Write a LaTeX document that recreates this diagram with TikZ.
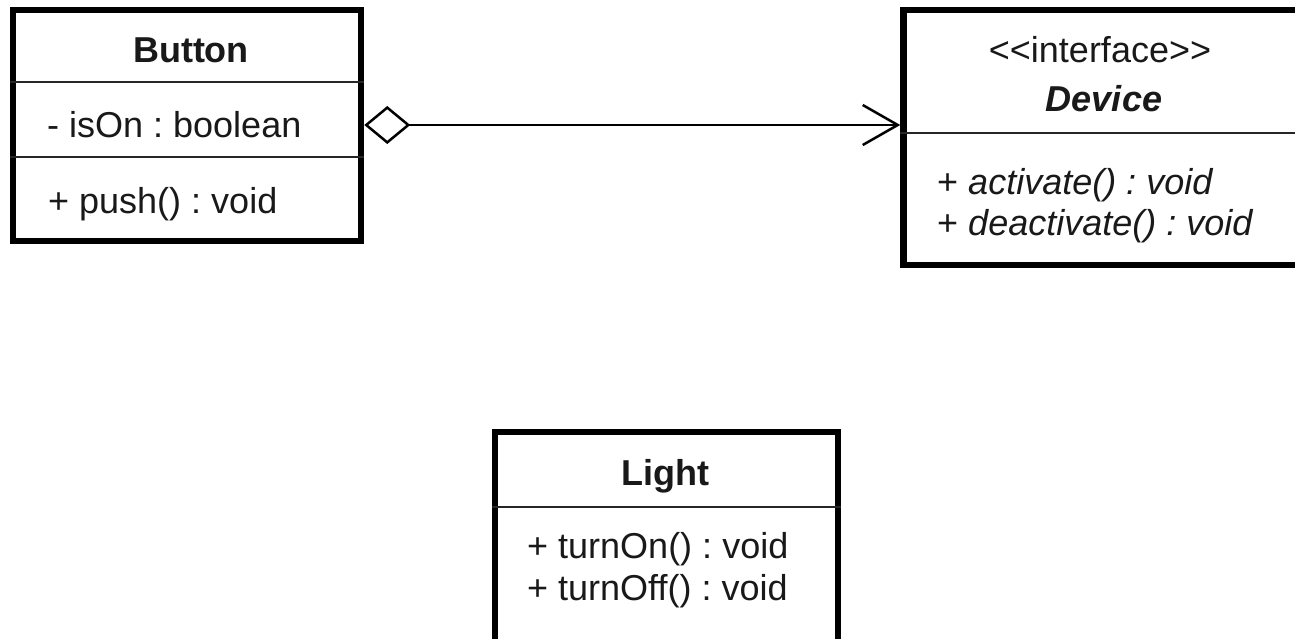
\documentclass[tikz,border=0pt]{standalone}
\usepackage{fontspec}
\setmainfont{Liberation Sans}[Ligatures=TeXOff]
\frenchspacing
\usetikzlibrary{arrows.meta}
\begin{document}
\begin{tikzpicture}[x=1pt,y=-1pt,
  classbox/.style={draw=black, line width=6.5pt, inner sep=0pt, fill=white},
  divider/.style={draw=black!85, line width=2pt},
  txt/.style={font=\fontsize{36}{43}\selectfont, inner sep=0pt, text=black!90},
  member/.style={txt, anchor=base west},
  title/.style={txt, anchor=base, font=\fontsize{36}{43}\selectfont\bfseries},
  assoc/.style={line width=2.5pt, {Diamond[open,length=46pt,width=38pt,line width=2.5pt]}-{Straight Barb[length=35pt,width=40pt,line width=2.5pt]}}]
\useasboundingbox (0,0) rectangle (1295,639);
\clip (0,0) rectangle (1295,639);
\fill[white] (0,0) rectangle (1295,639);

% Button
\node[classbox, minimum width=348pt, minimum height=231pt] (button) at (187,125.5) {};
\draw[divider] (button.west |- 0,82) -- (button.east |- 0,82);
\draw[divider] (button.west |- 0,157) -- (button.east |- 0,157);
\node[title] (buttonname) at (191,63) {Button};
\node[member] (isOn) at (47,138) {- isOn : boolean};
\node[member] (push) at (48,213) {+ push() : void};

% Device
\node[classbox, minimum width=406.5pt, minimum height=255pt] (device) at (1106.75,137.5) {};
\draw[divider] (device.west |- 0,133) -- (device.east |- 0,133);
\node[txt, anchor=base] (stereo) at (1100,63) {<<interface>>};
\node[title, font=\fontsize{36}{43}\selectfont\bfseries\itshape] (devicename) at (1104,112) {Device};
\node[member] (activate) at (937,195) {+ \textit{activate() : void}};
\node[member] (deactivate) at (937,235) {+ \textit{deactivate() : void}};

% Light
\node[classbox, minimum width=343pt, minimum height=228pt] (light) at (666.5,546) {};
\draw[divider] (light.west |- 0,507) -- (light.east |- 0,507);
\node[title] (lightname) at (665,485) {Light};
\node[member] (turnOn) at (527,558) {+ turnOn() : void};
\node[member] (turnOff) at (527,600) {+ turnOff() : void};

% association
\draw[assoc] (button.east |- 0,125) -- (device.west |- 0,125);
\end{tikzpicture}
\end{document}
